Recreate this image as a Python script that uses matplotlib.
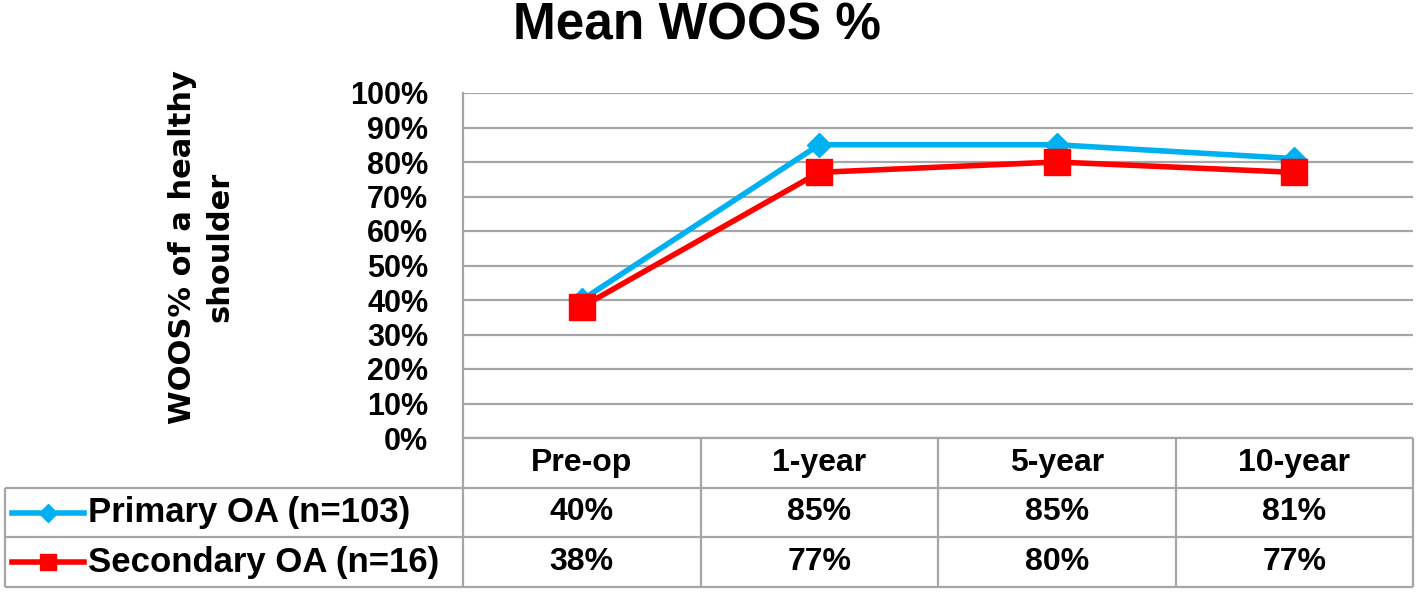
import matplotlib
matplotlib.use("Agg")
import matplotlib.pyplot as plt
from matplotlib.ticker import FuncFormatter

# data
categories = ["Pre-op", "1-year", "5-year", "10-year"]
series_names = ["Primary OA (n=103)", "Secondary OA (n=16)"]
primary = [40, 85, 85, 81]
secondary = [38, 77, 80, 77]
yticks = [0, 10, 20, 30, 40, 50, 60, 70, 80, 90, 100]

CYAN = "#00B0F0"
RED = "#FF0000"
GRID = "#A6A6A6"

plt.rcParams["font.family"] = ["Liberation Sans", "DejaVu Sans"]

W, H = 1416, 597
fig = plt.figure(figsize=(W / 100, H / 100), dpi=100)

# plot area in pixels: x 463..1413, y 93..438
px_l, px_r, px_t, px_b = 463, 1413, 93, 438
ax = fig.add_axes([px_l / W, 1 - px_b / H, (px_r - px_l) / W, (px_b - px_t) / H])

x = list(range(len(categories)))
ax.plot(x, primary, color=CYAN, lw=4, marker="D", ms=12, zorder=3)
ax.plot(x, secondary, color=RED, lw=4, marker="s", ms=19, zorder=4)

ax.set_xlim(-0.5, len(categories) - 0.5)
ax.set_ylim(0, 100)
ax.set_yticks(yticks)
ax.yaxis.set_major_formatter(FuncFormatter(lambda v, _: f"{v:.0f}%"))
ax.set_xticks([])
ax.tick_params(axis="y", length=0, pad=25, labelsize=22)
for lab in ax.get_yticklabels():
    lab.set_fontweight("bold")
ax.yaxis.grid(True, color=GRID, lw=1.6)
ax.set_axisbelow(True)
for side in ["top", "right", "bottom"]:
    ax.spines[side].set_visible(False)
ax.spines["left"].set_color(GRID)
ax.spines["left"].set_linewidth(1.6)

fig.text(697 / W, 1 - 26 / H, "Mean WOOS %", ha="center", va="center",
         fontsize=37, fontweight="bold")
fig.text(201 / W, 1 - 247 / H, "WOOS% of a healthy\nshoulder", ha="center",
         va="center", rotation=90, fontsize=22, fontweight="bold",
         family="DejaVu Sans", linespacing=1.35)

# data table below the plot area: x 5..1413, y 438..587
tb_l, tb_b = 5, 587
n = len(categories)
col_px = (px_r - px_l) / n
lab_w = (px_l - tb_l) / col_px          # label column width in column units
tax = fig.add_axes([tb_l / W, 1 - tb_b / H, (px_r - tb_l) / W, (tb_b - px_b) / H])
tax.set_xlim(-lab_w, n)
tax.set_ylim(3, 0)
tax.axis("off")

lk = dict(color=GRID, lw=1.6, clip_on=False)
tax.hlines(0, 0, n, **lk)
tax.hlines([1, 2, 3], -lab_w, n, **lk)
tax.vlines(range(n + 1), 0, 3, **lk)
tax.vlines(-lab_w, 1, 3, **lk)

for j, cat in enumerate(categories):
    tax.text(j + 0.5, 0.5, cat, ha="center", va="center", fontsize=23,
             fontweight="bold")

styles = [(CYAN, "D", 9), (RED, "s", 12)]
for i, (name, vals, (color, mk, ms)) in enumerate(
        zip(series_names, [primary, secondary], styles), start=1):
    yc = i + 0.5
    tax.text(-lab_w + 83 / col_px, yc, name, ha="left", va="center",
             fontsize=25, fontweight="bold")
    xs = [-lab_w + d / col_px for d in (7, 43, 79)]
    tax.plot(xs, [yc] * 3, color=color, lw=4, marker=mk, ms=ms,
             markevery=[1], clip_on=False)
    for j, v in enumerate(vals):
        tax.text(j + 0.5, yc, f"{v}%", ha="center", va="center", fontsize=23,
                 fontweight="bold")

fig.savefig("out.png", dpi=100)
